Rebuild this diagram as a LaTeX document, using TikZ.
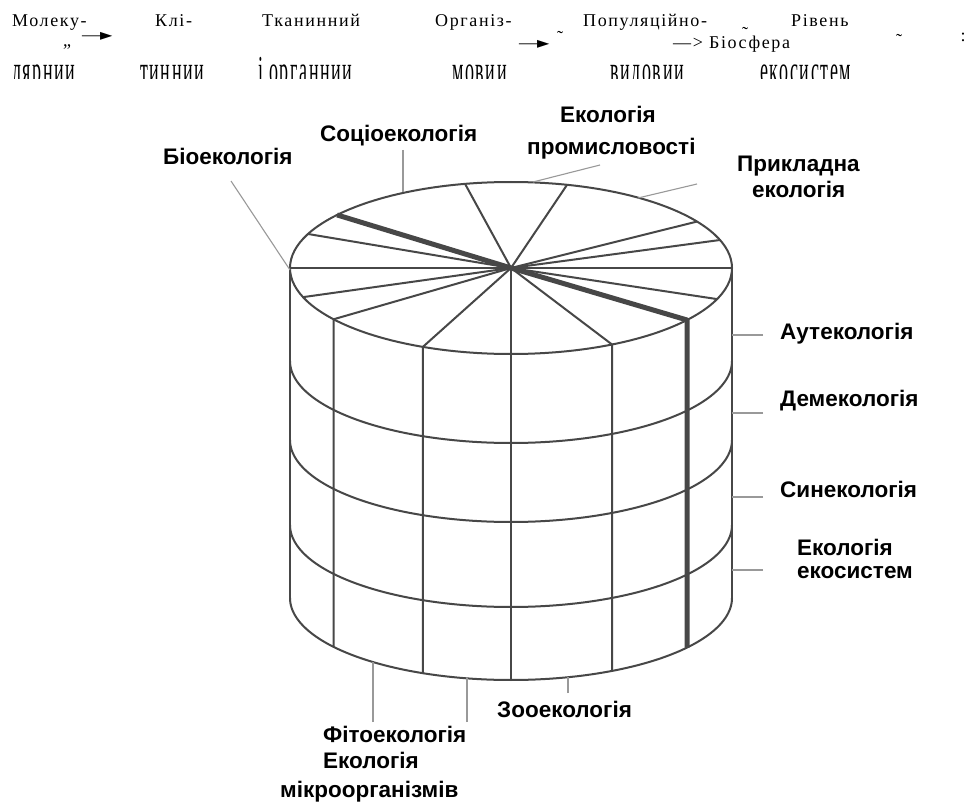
\documentclass[tikz,border=0pt]{standalone}
\usepackage{fontspec}
\usepackage{graphicx}
\setmainfont{Liberation Serif}
\newfontfamily\labfont{Liberation Sans}
\newfontfamily\topfont{Liberation Serif}[LetterSpace=9]
\newfontfamily\symfont{DejaVu Sans}
\begin{document}
\begin{tikzpicture}[x=1pt,y=-1pt,
  cyl/.style={draw=black!72,line width=2pt,line join=round,line cap=round},
  heavy/.style={draw=black!72,line width=5pt,line join=round},
  leader/.style={draw=black!40,line width=1.1pt},
  lab/.style={font=\labfont\bfseries\fontsize{22.5}{26}\selectfont,inner sep=0pt,anchor=base west},
  toptxt/.style={font=\topfont\fontsize{18}{20}\selectfont,inner sep=0pt,anchor=base west},
  sym/.style={font=\topfont\fontsize{18}{20}\selectfont,inner sep=0pt,anchor=base},
]
\useasboundingbox[fill=white] (0,0) rectangle (966,805);

% ---------- top row of levels ----------
\node[toptxt] (t1) at (12,27) {Молеку-};
\node[toptxt] (t2) at (155,27) {Клі-};
\node[toptxt] (t3) at (262,27) {Тканинний};
\node[toptxt] (t4) at (435,27) {Організ-};
\node[toptxt] (t5) at (583,27) {Популяційно-};
\node[toptxt] (t6) at (791,27) {Рівень};
\node[sym] (q1) at (67,47) {„};
\node[toptxt] (a1) at (82,41) {—{\symfont\fontsize{16}{17}\selectfont ►}};
\node[toptxt] (a2) at (519,49) {—{\symfont\fontsize{16}{17}\selectfont ►}};
\node[sym] (w1) at (560,44) {\char"02DC};
\node[sym] (w2) at (745,40) {\char"02DC};
\node[sym] (w3) at (899,47) {\char"02DC};
\node[toptxt] (bio) at (673,49) {—> Біосфера};
\node[sym] (c1) at (963,42) {:};
\begin{scope}
  \clip (0,0) rectangle (966,79);
  \node[toptxt] (b1) at (12,84) {\scalebox{1}[2.2]{лярнии}};
  \node[toptxt] (b2) at (140,84) {\scalebox{1}[2.2]{тиннии}};
  \node[toptxt] (b3) at (258,84) {\scalebox{1}[2.2]{і органнии}};
  \node[toptxt] (b4) at (452,84) {\scalebox{1}[2.2]{мовии}};
  \node[toptxt] (b5) at (610,84) {\scalebox{1}[2.2]{видовии}};
  \node[toptxt] (b6) at (760,84) {\scalebox{1}[2.2]{екосистем}};
\end{scope}

% ---------- cylinder ----------
\coordinate (O) at (511,268);
\draw[cyl] (O) ellipse [x radius=221, y radius=86];
\foreach \t in {102,75.3,156.7,180,199.8,19,32.7,0,338.8}
  \draw[cyl] (O) -- ({511+221*cos(\t)},{268-86*sin(\t)});
\foreach \t in {216.6,246.5,270,297.2}
  \draw[cyl] (O) -- ({511+221*cos(\t)},{268-86*sin(\t)}) -- ({511+221*cos(\t)},{598-82*sin(\t)});
\draw[cyl] (290,268) -- (290,598);
\draw[cyl] (732,268) -- (732,598);
\foreach \c in {361,440,525,598}
  \draw[cyl] plot[domain=180:360,samples=100] ({511+221*cos(\x)},{\c-82*sin(\x)});
\draw[heavy] ({511+221*cos(141.9)},{268-86*sin(141.9)}) -- (O)
  -- ({511+221*cos(322.8)},{268-86*sin(322.8)})
  -- ({511+221*cos(322.8)},{598-82*sin(322.8)});

% ---------- labels ----------
\node[lab] (Lbio) at (163,165) {Біоекологія};
\node[lab] (Lsoc) at (320,142) {Соціоекологія};
\node[lab] (Lpr1) at (560,123) {Екологія};
\node[lab] (Lpr2) at (527,155) {промисловості};
\node[lab] (Lap1) at (737,172) {Прикладна};
\node[lab] (Lap2) at (752,197) {екологія};
\node[lab] (Laut) at (780,339) {Аутекологія};
\node[lab] (Ldem) at (780,406) {Демекологія};
\node[lab] (Lsyn) at (780,497) {Синекологія};
\node[lab] (Leco1) at (797,555) {Екологія};
\node[lab] (Leco2) at (797,578) {екосистем};
\node[lab] (Lzoo) at (497,717) {Зооекологія};
\node[lab] (Lfit) at (323,742) {Фітоекологія};
\node[lab] (Lmic1) at (323,768) {Екологія};
\node[lab] (Lmic2) at (280,797) {мікроорганізмів};

% ---------- leaders ----------
\coordinate (pbioA) at (231,181);  \coordinate (pbioB) at (290,270);
\coordinate (psocA) at (403,150);  \coordinate (psocB) at (403,192);
\coordinate (pprA) at (600,165);   \coordinate (pprB) at (533,182);
\coordinate (papA) at (697,184);   \coordinate (papB) at (638,198);
\coordinate (pautA) at (763,335);  \coordinate (pautB) at (732,335);
\coordinate (pdemA) at (763,413);  \coordinate (pdemB) at (732,413);
\coordinate (psynA) at (763,497);  \coordinate (psynB) at (732,497);
\coordinate (pecoA) at (763,570);  \coordinate (pecoB) at (732,570);
\coordinate (pfitA) at (373,722);  \coordinate (pfitB) at (373,662);
\coordinate (pmicA) at (467,722);  \coordinate (pmicB) at (467,678);
\coordinate (pzooA) at (568,693);  \coordinate (pzooB) at (568,677);
\foreach \n in {bio,soc,pr,ap,aut,dem,syn,eco,fit,mic,zoo}
  \draw[leader] (p\n A) -- (p\n B);
\end{tikzpicture}
\end{document}
